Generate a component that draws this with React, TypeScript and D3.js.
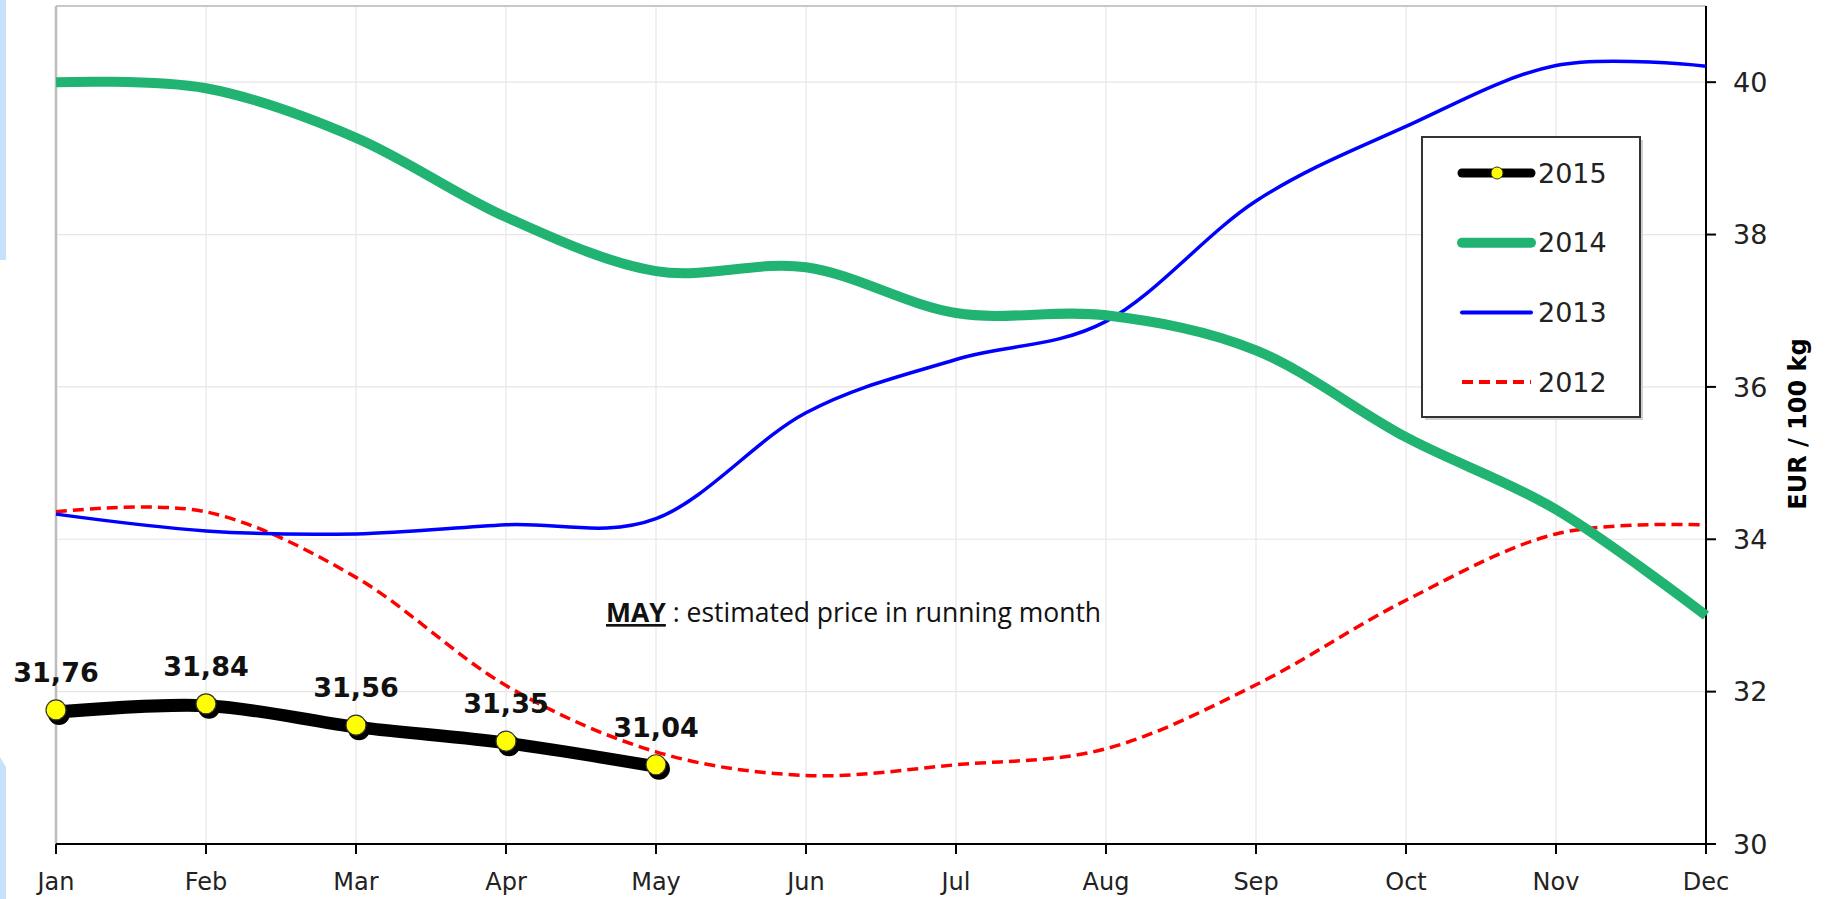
import React from 'react';
import * as d3 from 'd3';

const months = ['Jan', 'Feb', 'Mar', 'Apr', 'May', 'Jun', 'Jul', 'Aug', 'Sep', 'Oct', 'Nov', 'Dec'];
const yTicks = [30, 32, 34, 36, 38, 40];

const y2015 = [31.76, 31.84, 31.56, 31.35, 31.04];
const labels2015 = ['31,76', '31,84', '31,56', '31,35', '31,04'];
const y2014 = [40.0, 39.92, 39.27, 38.23, 37.52, 37.57, 36.97, 36.94, 36.48, 35.34, 34.39, 33.0];
const y2013 = [34.33, 34.11, 34.07, 34.19, 34.27, 35.66, 36.36, 36.86, 38.44, 39.42, 40.22, 40.21];
const y2012 = [34.36, 34.36, 33.5, 32.08, 31.21, 30.9, 31.04, 31.25, 32.09, 33.2, 34.07, 34.19];

const W = 1829;
const H = 899;

const App = () => {
    const x = d3.scaleLinear().domain([0, 11]).range([56, 1706]);
    const y = d3.scaleLinear().domain([30, 41]).range([844, 6]);

    const line = d3.line<number>()
        .x((d, i) => x(i))
        .y(d => y(d))
        .curve(d3.curveCardinal.tension(0));

    const legend = [
        { name: '2015', color: '#000', width: 9, dash: null, dot: true },
        { name: '2014', color: '#21B371', width: 10, dash: null, dot: false },
        { name: '2013', color: '#0000FF', width: 4, dash: null, dot: false },
        { name: '2012', color: '#FF0000', width: 4, dash: '11 6', dot: false },
    ];

    return (
        <svg width={W} height={H} style={{ position: 'absolute', left: 0, top: 0, background: '#fff' }}>
            {/* light blue strips on the left edge */}
            <rect x={0} y={0} width={6} height={260} fill="#C6E2FA" />
            <path d="M0,757 L6,767 L6,899 L0,899 Z" fill="#C6E2FA" />

            {/* grid */}
            {months.map((m, i) => (
                <line key={m} x1={x(i)} x2={x(i)} y1={y(41)} y2={y(30)} stroke="#e6e6e6" strokeWidth={1.2} />
            ))}
            {yTicks.map(t => (
                <line key={t} x1={x(0)} x2={x(11)} y1={y(t)} y2={y(t)} stroke="#e6e6e6" strokeWidth={1.2} />
            ))}
            <line x1={x(0)} x2={x(11)} y1={y(41)} y2={y(41)} stroke="#c8c8c8" strokeWidth={2} />
            <line x1={x(0)} x2={x(0)} y1={y(41)} y2={y(30)} stroke="#bdbdbd" strokeWidth={2.5} />

            {/* axes */}
            <line x1={x(0)} x2={x(11)} y1={y(30)} y2={y(30)} stroke="#000" strokeWidth={2} />
            {months.map((m, i) => (
                <g key={m}>
                    <line x1={x(i)} x2={x(i)} y1={y(30)} y2={y(30) + 10} stroke="#000" strokeWidth={2} />
                    <text x={x(i)} y={890} textAnchor="middle" fontFamily="'DejaVu Sans'" fontSize={24} fill="#222">{m}</text>
                </g>
            ))}
            <line x1={x(11)} x2={x(11)} y1={y(41)} y2={y(30)} stroke="#000" strokeWidth={2} />
            {yTicks.map(t => (
                <g key={t}>
                    <line x1={x(11)} x2={x(11) + 10} y1={y(t)} y2={y(t)} stroke="#000" strokeWidth={2} />
                    <text x={1733} y={y(t)} dy="0.36em" fontFamily="'DejaVu Sans'" fontSize={27} fill="#222">{t}</text>
                </g>
            ))}
            <text transform="translate(1806,424) rotate(-90)" textAnchor="middle" fontFamily="'DejaVu Sans'" fontWeight="bold" fontSize={24} fill="#000">EUR / 100 kg</text>

            {/* series */}
            <path d={line(y2012) || ''} fill="none" stroke="#FF0000" strokeWidth={3.5} strokeDasharray="11 6" />
            <path d={line(y2013) || ''} fill="none" stroke="#0000FF" strokeWidth={3.5} />
            <path d={line(y2014) || ''} fill="none" stroke="#21B371" strokeWidth={10} />

            <g transform="translate(3,4)">
                <path d={line(y2015) || ''} fill="none" stroke="#000" strokeWidth={9} strokeLinejoin="round" />
                {y2015.map((v, i) => (
                    <circle key={i} cx={x(i)} cy={y(v)} r={11} fill="#000" />
                ))}
            </g>
            <path d={line(y2015) || ''} fill="none" stroke="#000" strokeWidth={9} strokeLinejoin="round" />
            {y2015.map((v, i) => (
                <circle key={i} cx={x(i)} cy={y(v)} r={10} fill="#FFFF00" stroke="#333" strokeWidth={1.2} />
            ))}
            {y2015.map((v, i) => (
                <text key={i} x={x(i)} y={y(v) - 28} textAnchor="middle" fontFamily="'DejaVu Sans'" fontWeight="bold" fontSize={27} fill="#111">{labels2015[i]}</text>
            ))}

            {/* annotation */}
            <text x={606} y={622} fontFamily="'Open Sans'" fontSize={26.5} fill="#111">
                <tspan fontWeight="bold" textDecoration="underline">MAY</tspan>
                <tspan> : estimated price in running month</tspan>
            </text>

            {/* legend */}
            <rect x={1425} y={140} width={218} height={280} fill="#d0d0d0" />
            <rect x={1422} y={137} width={218} height={280} fill="#fff" stroke="#333" strokeWidth={2} />
            {legend.map((s, i) => {
                const ly = 173 + i * 69.7;
                return (
                    <g key={s.name}>
                        <line x1={1462} x2={1531} y1={ly} y2={ly} stroke={s.color} strokeWidth={s.width}
                            strokeLinecap={s.dash ? 'butt' : 'round'} strokeDasharray={s.dash || undefined} />
                        {s.dot && <circle cx={1497} cy={ly} r={6} fill="#FFFF00" stroke="#333" strokeWidth={1} />}
                        <text x={1538} y={ly} dy="0.36em" fontFamily="'DejaVu Sans'" fontSize={27} fill="#222">{s.name}</text>
                    </g>
                );
            })}
        </svg>
    );
};

export default App;
